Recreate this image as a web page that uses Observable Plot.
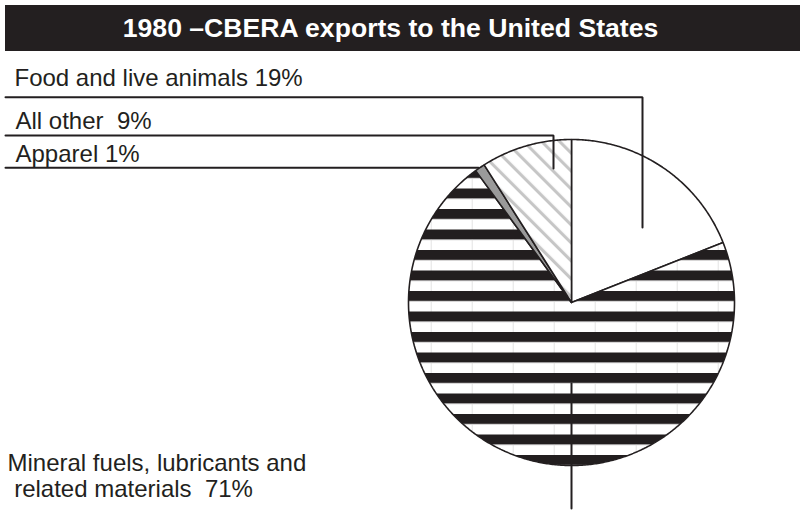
<!DOCTYPE html>
<html>
<head>
<meta charset="utf-8">
<script src="https://cdn.jsdelivr.net/npm/d3@7"></script>
<script src="https://cdn.jsdelivr.net/npm/@observablehq/plot@0.6"></script>
<style>
  html, body { margin: 0; padding: 0; background: #fff; }
  body { width: 803px; height: 510px; overflow: hidden; font-family: "Liberation Sans", Arial, sans-serif; }
  #title {
    margin: 5px 0 0 5px; width: 795px; height: 46px; box-sizing: border-box;
    background: #231f20; color: #fff; font-weight: bold; font-size: 26.6px;
    display: flex; align-items: center; justify-content: center; padding-right: 24px;
  }
  #chart svg text { white-space: pre; }
</style>
</head>
<body>
<div id="title">1980 –CBERA exports to the United States</div>
<div id="chart"></div>
<script>
// ---- data ----
const categories = ["Food and live animals", "Mineral fuels, lubricants and related materials", "Apparel", "All other"];
const shares = [19, 71, 1, 9];
const labelTexts = ["Food and live animals 19%", "Mineral fuels, lubricants and\n related materials  71%", "Apparel 1%", "All other  9%"];

// ---- layout (pixels, relative to the pie centre, y up) ----
const W = 803, H = 459, cx = 571, cy = 251, R = 163;
const fills = ["#ffffff", "url(#stripes)", "#9a9a9a", "url(#hatch)"];
const labelPos = [
  {x: -557, y: 217},   // Food
  {x: -564, y: -194.5},// Mineral (last line baseline)
  {x: -556, y: 141},   // Apparel
  {x: -556, y: 174}    // All other
];
const leaders = [
  [[-566, 205.3], [71, 205.3], [71, 75]],
  [[0, -81], [0, -206]],
  [[-566, 134.7], [-93, 134.7]],
  [[-566, 167], [-18, 167], [-18, 134]]
];

// ---- build slices ----
const arcs = d3.pie().sort(null).value(d => d)(shares);
const slicePts = [];
arcs.forEach((a, i) => {
  const pts = [{cat: categories[i], x: 0, y: 0}];
  const n = Math.max(2, Math.ceil((a.endAngle - a.startAngle) / (Math.PI / 360)));
  for (let k = 0; k <= n; k++) {
    const t = a.startAngle + (a.endAngle - a.startAngle) * k / n;
    pts.push({cat: categories[i], x: R * Math.sin(t), y: R * Math.cos(t)});
  }
  pts.push({cat: categories[i], x: 0, y: 0});
  slicePts.push(pts);
});

const leaderData = leaders.flatMap((pts, i) => pts.map(([x, y]) => ({id: i, x, y})));
const labelData = labelTexts.map((t, i) => ({text: t, x: labelPos[i].x, y: labelPos[i].y}));

const plot = Plot.plot({
  width: W, height: H,
  margin: 0,
  x: {domain: [-cx, W - cx], range: [0, W], axis: null},
  y: {domain: [-(H - cy), cy], range: [H, 0], axis: null},
  style: {fontFamily: '"Liberation Sans", Arial, sans-serif', background: "#fff", overflow: "visible"},
  marks: [
    ...slicePts.map((pts, i) => Plot.line(pts, {
      x: "x", y: "y", fill: fills[i], stroke: "#231f20", strokeWidth: 1.6,
      strokeLinejoin: "miter", curve: "linear"
    })),
    Plot.line(leaderData, {x: "x", y: "y", z: "id", stroke: "#231f20", strokeWidth: 2, strokeLinejoin: "miter", curve: "linear"}),
    Plot.text(labelData, {
      x: "x", y: "y", text: "text", textAnchor: "start", lineAnchor: "bottom",
      lineHeight: 26 / 24, fontSize: 24, fill: "#231f20"
    })
  ]
});

// pattern definitions (aligned with pixel space of the SVG)
const defs = d3.select(plot).insert("defs", ":first-child");
const stripes = defs.append("pattern")
  .attr("id", "stripes").attr("patternUnits", "userSpaceOnUse")
  .attr("x", 430.2).attr("y", 260).attr("width", 41).attr("height", 20.5);
stripes.append("rect").attr("width", 41).attr("height", 20.5).attr("fill", "#fff");
stripes.append("rect").attr("width", 41).attr("height", 10).attr("fill", "#221e1f");
stripes.append("line").attr("x1", 0.5).attr("x2", 0.5).attr("y1", 10).attr("y2", 20.5)
  .attr("stroke", "#d8d8d8").attr("stroke-width", 0.7);

const hatch = defs.append("pattern")
  .attr("id", "hatch").attr("patternUnits", "userSpaceOnUse")
  .attr("width", 12.7).attr("height", 12.7).attr("patternTransform", "rotate(-45)");
hatch.append("rect").attr("width", 12.7).attr("height", 12.7).attr("fill", "#fff");
hatch.append("rect").attr("width", 3.1).attr("height", 12.7).attr("fill", "#c6c6c6");

document.getElementById("chart").appendChild(plot);
</script>
</body>
</html>
